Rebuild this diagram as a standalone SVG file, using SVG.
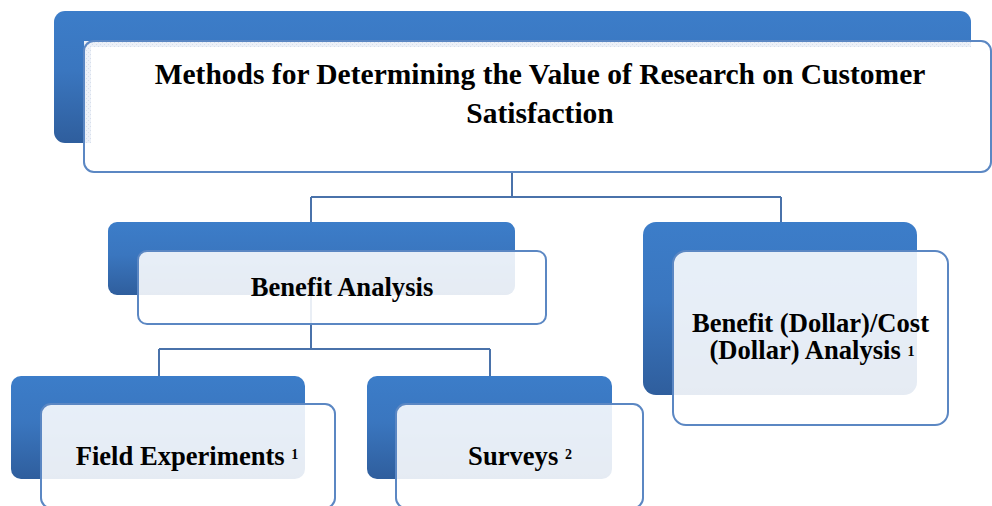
<svg xmlns="http://www.w3.org/2000/svg" width="992" height="506" viewBox="0 0 992 506">
  <defs>
    <linearGradient id="backGrad" x1="0" y1="0" x2="0" y2="1">
      <stop offset="0" stop-color="#3c7dc9"/>
      <stop offset="0.45" stop-color="#3a76bf"/>
      <stop offset="1" stop-color="#2f5e9d"/>
    </linearGradient>
    <pattern id="dots" width="4" height="4" patternUnits="userSpaceOnUse">
      <rect width="4" height="4" fill="#edf1f8"/>
      <rect x="0" y="0" width="1" height="1" fill="#d6deeb"/>
      <rect x="2" y="2" width="1" height="1" fill="#d6deeb"/>
    </pattern>
  </defs>
  <style>
    .back { fill: url(#backGrad); }
    .front { fill: #ffffff; fill-opacity: 0.88; stroke: #5b87c3; stroke-width: 2; }
    .conn { fill: none; stroke: #4a72aa; stroke-width: 2; }
    .lbl { font-family: "Liberation Serif", "Times New Roman", serif; font-weight: bold; font-size: 26.6px; fill: #000000; text-anchor: middle; }
    .title { font-size: 29.5px; }
    .sup { font-size: 14px; }
  </style>
  <rect width="992" height="506" fill="#ffffff"/>

  <g id="connectors">
    <path class="conn" d="M512,172 V197 M311,197 H781 M311,197 V349 M781,197 V222 M159,349 H490 M159,349 V376 M490,349 V376"/>
  </g>

  <g id="node-title">
    <rect class="back" x="54" y="11" width="917" height="132" rx="11"/>
    <rect x="84" y="41" width="887" height="102" fill="url(#dots)"/>
    <rect x="91" y="47" width="880" height="96" fill="#ffffff"/>
    <rect x="84" y="41" width="907" height="131" rx="10" fill="none" stroke="#5b87c3" stroke-width="2"/>
    <text class="lbl title" x="540" y="84">Methods for Determining the Value of Research on Customer</text>
    <text class="lbl title" x="540" y="122.5">Satisfaction</text>
  </g>

  <g id="node-benefit">
    <rect class="back" x="108" y="222" width="407" height="73" rx="9"/>
    <rect class="front" x="138" y="251" width="408" height="73" rx="9"/>
    <text class="lbl" x="342" y="296">Benefit Analysis</text>
  </g>

  <g id="node-dollar">
    <rect class="back" x="643" y="222" width="274" height="173" rx="13"/>
    <rect class="front" x="673" y="251" width="275" height="174" rx="13"/>
    <text class="lbl" x="810.5" y="331.5">Benefit (Dollar)/Cost</text>
    <text class="lbl" x="812" y="359">(Dollar) Analysis <tspan class="sup" dy="-3">1</tspan></text>
  </g>

  <g id="node-field">
    <rect class="back" x="11" y="376" width="294" height="103" rx="10"/>
    <rect class="front" x="41" y="404" width="294" height="104" rx="10"/>
    <text class="lbl" x="187" y="465">Field Experiments <tspan class="sup" dy="-6">1</tspan></text>
  </g>

  <g id="node-surveys">
    <rect class="back" x="367" y="376" width="245" height="103" rx="10"/>
    <rect class="front" x="396" y="404" width="247" height="104" rx="10"/>
    <text class="lbl" x="520" y="465">Surveys <tspan class="sup" dy="-6">2</tspan></text>
  </g>
</svg>
